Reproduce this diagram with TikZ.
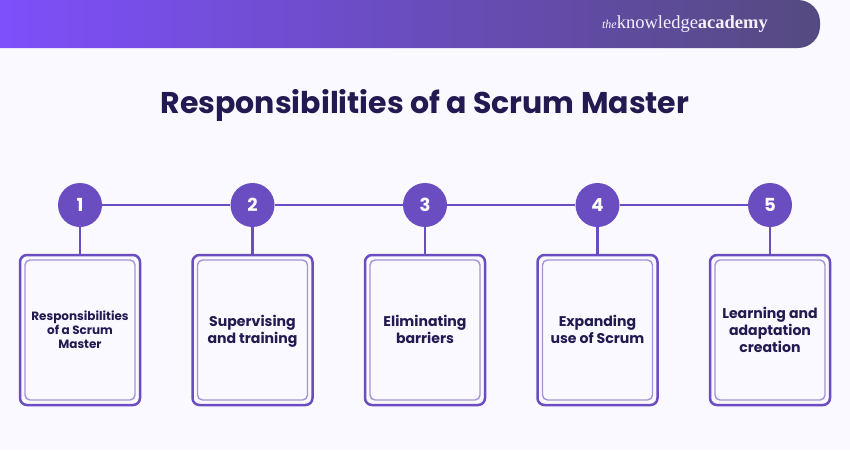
\documentclass[tikz,border=0pt]{standalone}
\usepackage{fontspec}
\setmainfont{Poppins}
\newfontfamily\logofont{Liberation Serif}
\definecolor{barleft}{HTML}{7E4FFB}
\definecolor{barright}{HTML}{554A80}
\definecolor{pagebg}{HTML}{FAF9FF}
\definecolor{ink}{HTML}{231A52}
\definecolor{stepcol}{HTML}{6A4DC0}
\definecolor{innercol}{HTML}{A593D8}
\begin{document}
\begin{tikzpicture}[x=1pt,y=-1pt]
	\tikzstyle{number}=[circle,fill=stepcol,text=white,font=\bfseries\fontsize{18}{18}\selectfont,minimum size=44pt,inner sep=0pt]
	\tikzstyle{outer box}=[draw=stepcol,line width=2.5pt,rounded corners=7pt,minimum width=120pt,minimum height=150pt,inner sep=0pt]
	\tikzstyle{inner box}=[draw=innercol,line width=1.4pt,rounded corners=5pt,minimum width=110pt,minimum height=140pt,inner sep=0pt]
	\tikzstyle{label}=[text=ink,font=\bfseries\fontsize{14.1}{17}\selectfont,align=center]
	\tikzstyle{edge}=[draw=stepcol,line width=2.5pt,-]

	\useasboundingbox (0,0) rectangle (850,450);
	\fill[pagebg] (0,0) rectangle (850,450);
	\shade[left color=barleft,right color=barright] (0,0) -- (798,0) arc[start angle=90,end angle=0,x radius=22,y radius=-22] -- (820,26) arc[start angle=0,end angle=-90,x radius=22,y radius=-22] -- (0,48) -- cycle;

	\node[text=white!92!barleft,font=\logofont\fontsize{18.5}{18.5}\selectfont] (logo) at (685,24) {\textit{\fontsize{12}{12}\selectfont the}knowledge\textbf{academy}};
	\node[text=ink,font=\bfseries\fontsize{30}{30}\selectfont] (title) at (425,105) {Responsibilities of a Scrum Master};

	\node[outer box] (b1) at (80,330) {};
	\node[outer box] (b2) at (252.5,330) {};
	\node[outer box] (b3) at (425,330) {};
	\node[outer box] (b4) at (597.5,330) {};
	\node[outer box] (b5) at (770,330) {};

	\node[inner box] (i1) at (b1) {};
	\node[inner box] (i2) at (b2) {};
	\node[inner box] (i3) at (b3) {};
	\node[inner box] (i4) at (b4) {};
	\node[inner box] (i5) at (b5) {};

	\node[number] (n1) at (80,205) {1};
	\node[number] (n2) at (252.5,205) {2};
	\node[number] (n3) at (425,205) {3};
	\node[number] (n4) at (597.5,205) {4};
	\node[number] (n5) at (770,205) {5};

	\draw[edge] (n1) -- (n2) -- (n3) -- (n4) -- (n5);
	\draw[edge] (n1) -- (b1);
	\draw[edge] (n2) -- (b2);
	\draw[edge] (n3) -- (b3);
	\draw[edge] (n4) -- (b4);
	\draw[edge] (n5) -- (b5);

	\node[label,font=\bfseries\fontsize{12}{14}\selectfont] (t1) at (80,330) {Responsibilities\\of a Scrum\\Master};
	\node[label] (t2) at (252.5,331) {Supervising\\and training};
	\node[label] (t3) at (425,329.5) {Eliminating\\barriers};
	\node[label] (t4) at (597.5,329.5) {Expanding\\use of Scrum};
	\node[label] (t5) at (770,329.5) {Learning and\\adaptation\\creation};
\end{tikzpicture}
\end{document}
